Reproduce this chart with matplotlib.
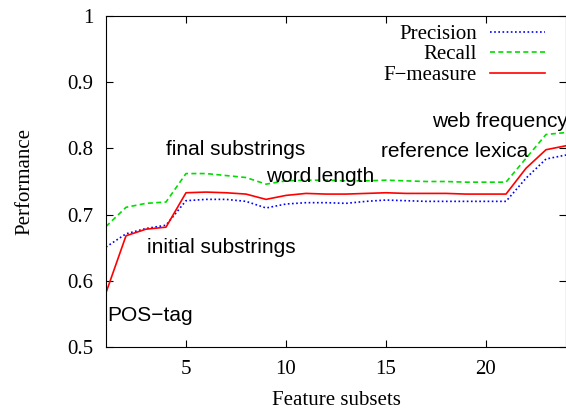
import matplotlib
matplotlib.use("Agg")
from matplotlib import pyplot as plt

subsets = list(range(1, 25))
precision = [0.651, 0.671, 0.679, 0.684, 0.721, 0.723, 0.723, 0.720, 0.710, 0.716,
             0.718, 0.718, 0.717, 0.720, 0.722, 0.721, 0.720, 0.720, 0.720, 0.720,
             0.720, 0.755, 0.784, 0.790]
recall = [0.682, 0.711, 0.717, 0.719, 0.762, 0.762, 0.759, 0.756, 0.746, 0.751,
          0.752, 0.752, 0.751, 0.751, 0.752, 0.751, 0.750, 0.750, 0.749, 0.749,
          0.749, 0.785, 0.821, 0.824]
fmeasure = [0.582, 0.668, 0.678, 0.681, 0.733, 0.734, 0.733, 0.731, 0.723, 0.729,
            0.732, 0.731, 0.731, 0.732, 0.733, 0.732, 0.732, 0.732, 0.731, 0.731,
            0.731, 0.770, 0.798, 0.804]

# feature group labels and where they sit (x, y in data units)
notes = ["POS\u2212tag", "initial substrings", "final substrings", "word length",
         "reference lexica", "web frequency"]
note_pos = [(1.05, 0.547), (3.04, 0.651), (3.99, 0.798), (9.0, 0.758),
            (14.73, 0.796), (17.3, 0.840)]

serif = ["Liberation Serif", "DejaVu Serif"]
sans = ["Liberation Sans", "DejaVu Sans"]

fig = plt.figure(figsize=(5.66, 4.09), dpi=100)
ax = fig.add_axes([106 / 566, 62 / 409, 460 / 566, 331 / 409])

ax.plot(subsets, precision, color="blue", linestyle=(0, (1, 1.5)), linewidth=1.2, label="Precision")
ax.plot(subsets, recall, color="#00dd00", linestyle=(0, (3, 2)), linewidth=1.2, label="Recall")
ax.plot(subsets, fmeasure, color="red", linestyle="-", linewidth=1.2, label="F\u2212measure")

# the last label runs off the right edge, as in the original figure
for text, (x, y) in zip(notes, note_pos):
    ax.text(x, y, text, fontsize=15, family=sans, ha="left", va="center", clip_on=False)

ax.set_xlim(1, 24)
ax.set_ylim(0.5, 1)
ax.set_xticks([5, 10, 15, 20])
ax.set_yticks([0.5, 0.6, 0.7, 0.8, 0.9, 1.0])
ax.set_yticklabels(["0.5", "0.6", "0.7", "0.8", "0.9", "1"])
ax.tick_params(direction="in", length=5, width=0.8, top=True, right=True, labelsize=15, pad=9)
for lab in ax.get_xticklabels() + ax.get_yticklabels():
    lab.set_family(serif)

ax.set_xlabel("Feature subsets", fontsize=15, family=serif, labelpad=9)
ax.set_ylabel("Performance", fontsize=15, family=serif, labelpad=24)

leg = ax.legend(loc="upper right", bbox_to_anchor=(0.954, 0.975), frameon=False,
                prop={"family": serif, "size": 15}, markerfirst=False,
                handlelength=2.65, handletextpad=0.62, labelspacing=0.05,
                borderaxespad=0, borderpad=0)

fig.savefig("out.png", dpi=100)
